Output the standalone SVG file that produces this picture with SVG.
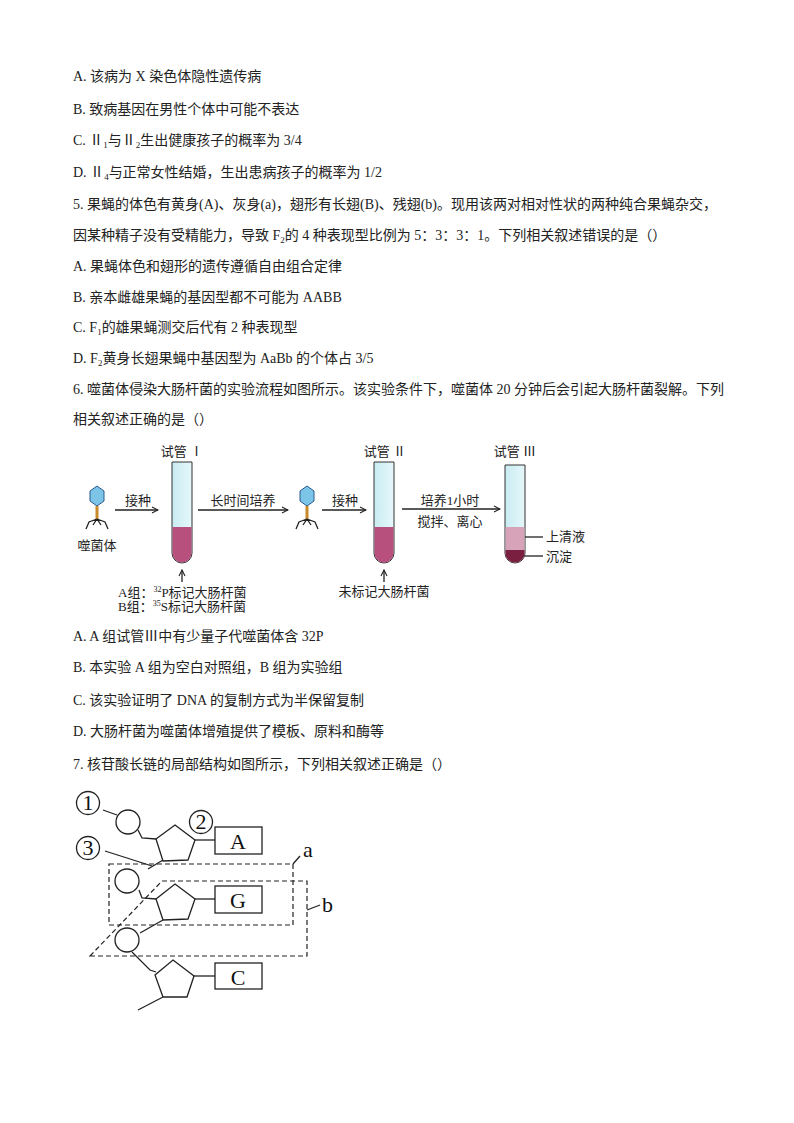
<svg xmlns="http://www.w3.org/2000/svg" width="794" height="1123" viewBox="0 0 794 1123">
<style>
.t{font-family:"Liberation Serif","Noto Sans CJK SC",serif;font-size:14px;fill:#222}
.d{font-family:"Liberation Serif","Noto Sans CJK SC",serif;font-size:13px;fill:#222}
.s{stroke:#222;stroke-width:1.3;fill:none}
.w{stroke:#222;stroke-width:1.3;fill:#fff}
.ds{stroke:#222;stroke-width:1.2;fill:none;stroke-dasharray:5,3}
.big{font-family:"Liberation Serif",serif;font-size:22px;fill:#111}
</style>
<defs>
<marker id="ar" markerWidth="8" markerHeight="8" refX="7" refY="4" orient="auto" markerUnits="userSpaceOnUse"><path d="M1,1 L7,4 L1,7" fill="none" stroke="#222" stroke-width="1.1"/></marker>
<linearGradient id="tube" x1="0" x2="1"><stop offset="0" stop-color="#c8ecf2"/><stop offset="1" stop-color="#e6f7fa"/></linearGradient>
<g id="phage"><polygon points="0,-12 7,-7 7,3 0,8 -7,3 -7,-7" fill="#7cc4e8" stroke="#2a5a8a" stroke-width="1"/><rect x="-1.5" y="8" width="3" height="13" fill="#c98a2a"/><path d="M0,21 L-8,24 L-11,31 M0,21 L8,24 L11,31 M0,21 L-4,27 M0,21 L4,27" class="s" stroke-width="1"/></g>
</defs>
<rect width="794" height="1123" fill="#fff"/>
<g id="text">
<text class="t" x="73" y="81">A. 该病为 X 染色体隐性遗传病</text>
<text class="t" x="73" y="114">B. 致病基因在男性个体中可能不表达</text>
<text class="t" x="73" y="145">C. Ⅱ<tspan font-size="9" dy="3">1</tspan><tspan dy="-3">与Ⅱ</tspan><tspan font-size="9" dy="3">2</tspan><tspan dy="-3">生出健康孩子的概率为 3/4</tspan></text>
<text class="t" x="73" y="177">D. Ⅱ<tspan font-size="9" dy="3">4</tspan><tspan dy="-3">与正常女性结婚，生出患病孩子的概率为 1/2</tspan></text>
<text class="t" x="73" y="209">5. 果蝇的体色有黄身(A)、灰身(a)，翅形有长翅(B)、残翅(b)。现用该两对相对性状的两种纯合果蝇杂交，</text>
<text class="t" x="73" y="240">因某种精子没有受精能力，导致 F<tspan font-size="9" dy="3">2</tspan><tspan dy="-3">的 4 种表现型比例为 5：3：3：1。下列相关叙述错误的是（）</tspan></text>
<text class="t" x="73" y="271">A. 果蝇体色和翅形的遗传遵循自由组合定律</text>
<text class="t" x="73" y="302">B. 亲本雌雄果蝇的基因型都不可能为 AABB</text>
<text class="t" x="73" y="332">C. F<tspan font-size="9" dy="3">1</tspan><tspan dy="-3">的雄果蝇测交后代有 2 种表现型</tspan></text>
<text class="t" x="73" y="363">D. F<tspan font-size="9" dy="3">2</tspan><tspan dy="-3">黄身长翅果蝇中基因型为 AaBb 的个体占 3/5</tspan></text>
<text class="t" x="73" y="394">6. 噬菌体侵染大肠杆菌的实验流程如图所示。该实验条件下，噬菌体 20 分钟后会引起大肠杆菌裂解。下列</text>
<text class="t" x="73" y="424">相关叙述正确的是（）</text>
<text class="t" x="73" y="641">A. A 组试管Ⅲ中有少量子代噬菌体含 32P</text>
<text class="t" x="73" y="672">B. 本实验 A 组为空白对照组，B 组为实验组</text>
<text class="t" x="73" y="705">C. 该实验证明了 DNA 的复制方式为半保留复制</text>
<text class="t" x="73" y="736">D. 大肠杆菌为噬菌体增殖提供了模板、原料和酶等</text>
<text class="t" x="73" y="769">7. 核苷酸长链的局部结构如图所示，下列相关叙述正确是（）</text>
</g>
<g id="tube1">
<text class="d" x="182" y="456" text-anchor="middle">试管 Ⅰ</text>
<path d="M172,462 V553 a10,10 0 0 0 20,0 V462 Z" fill="url(#tube)" stroke="#333" stroke-width="1"/>
<path d="M172.5,527 V553 a9.5,9.5 0 0 0 19,0 V527 Z" fill="#b8507e"/>
</g>
<g id="tube2">
<text class="d" x="385" y="456" text-anchor="middle">试管 Ⅱ</text>
<path d="M374,462 V553 a10,10 0 0 0 20,0 V462 Z" fill="url(#tube)" stroke="#333" stroke-width="1"/>
<path d="M374.5,527 V553 a9.5,9.5 0 0 0 19,0 V527 Z" fill="#b8507e"/>
</g>
<g id="tube3">
<text class="d" x="515" y="456" text-anchor="middle">试管 Ⅲ</text>
<path d="M505,465 V553 a10,10 0 0 0 20,0 V465 Z" fill="url(#tube)" stroke="#333" stroke-width="1"/>
<path d="M505.5,527 V553 a9.5,9.5 0 0 0 19,0 V527 Z" fill="#d7a3b8"/>
<path d="M505.5,550 V553 a9.5,9.5 0 0 0 19,0 V550 Z" fill="#7a1f40"/>
<line x1="525" y1="537" x2="543" y2="537" class="s" stroke-width="1"/>
<line x1="525" y1="556" x2="543" y2="556" class="s" stroke-width="1"/>
<text class="d" x="546" y="541">上清液</text>
<text class="d" x="546" y="561">沉淀</text>
</g>
<g id="phage1"><use href="#phage" x="97" y="498"/><text class="d" x="97" y="550" text-anchor="middle">噬菌体</text></g>
<g id="phage2"><use href="#phage" x="307" y="498"/></g>
<g id="labels">
<text class="d" x="118" y="597">A组：<tspan font-size="8" dy="-5">32</tspan><tspan dy="5">P标记大肠杆菌</tspan></text>
<text class="d" x="118" y="611">B组：<tspan font-size="8" dy="-5">35</tspan><tspan dy="5">S标记大肠杆菌</tspan></text>
<text class="d" x="384" y="596" text-anchor="middle">未标记大肠杆菌</text>
<text class="d" x="138" y="505" text-anchor="middle">接种</text>
<text class="d" x="243" y="505" text-anchor="middle">长时间培养</text>
<text class="d" x="345" y="505" text-anchor="middle">接种</text>
<text class="d" x="450" y="505" text-anchor="middle">培养1小时</text>
<text class="d" x="450" y="526" text-anchor="middle">搅拌、离心</text>
</g>
<g id="connectors" class="s" stroke-width="1">
<line x1="115" y1="510" x2="158" y2="510" marker-end="url(#ar)"/>
<line x1="198" y1="510" x2="288" y2="510" marker-end="url(#ar)"/>
<line x1="322" y1="510" x2="366" y2="510" marker-end="url(#ar)"/>
<line x1="402" y1="509" x2="500" y2="509" marker-end="url(#ar)"/>
<line x1="182" y1="582" x2="182" y2="570" marker-end="url(#ar)"/>
<line x1="384" y1="582" x2="384" y2="570" marker-end="url(#ar)"/>
</g>
<g id="nucleotide">
<line x1="103" y1="810" x2="117" y2="815" class="s"/>
<circle cx="128" cy="822" r="12" class="w"/>
<polyline points="138,830 142,838 156,839" class="s"/>
<polygon points="175,825 195,840 188,860 163,861 156,839" class="w"/>
<line x1="195" y1="840" x2="215" y2="840" class="s"/>
<rect x="215" y="827" width="47" height="27" class="w"/>
<text class="big" x="238" y="849" text-anchor="middle">A</text>
<line x1="105" y1="851" x2="152" y2="866" class="s"/>
<line x1="163" y1="860" x2="148" y2="869" class="s"/>
<circle cx="127" cy="881" r="12" class="w"/>
<polyline points="139,890 142,898 156,899" class="s"/>
<polygon points="175,884 195,899 188,919 163,920 156,899" class="w"/>
<line x1="195" y1="899" x2="215" y2="899" class="s"/>
<rect x="215" y="886" width="47" height="27" class="w"/>
<text class="big" x="238" y="908" text-anchor="middle">G</text>
<line x1="163" y1="920" x2="140" y2="933" class="s"/>
<circle cx="127" cy="940" r="12" class="w"/>
<polyline points="132,952 150,970 156,972" class="s"/>
<polygon points="173,960 194,976 187,997 163,997 155,975" class="w"/>
<line x1="194" y1="976" x2="215" y2="976" class="s"/>
<rect x="215" y="963" width="47" height="26" class="w"/>
<text class="big" x="238" y="985" text-anchor="middle">C</text>
<line x1="163" y1="997" x2="138" y2="1010" class="s"/>
<circle cx="88" cy="803" r="11.5" class="w"/><text class="big" x="88" y="810" text-anchor="middle" font-size="19">1</text>
<circle cx="201" cy="822" r="11.5" class="w"/><text class="big" x="201" y="829" text-anchor="middle" font-size="19">2</text>
<circle cx="88" cy="848" r="11.5" class="w"/><text class="big" x="88" y="855" text-anchor="middle" font-size="19">3</text>
<rect x="109" y="864" width="184" height="61" class="ds"/>
<polygon points="90,956 162,881 307,881 307,956" class="ds"/>
<line x1="293" y1="864" x2="300" y2="856" class="s" stroke-width="1"/>
<text class="big" x="303" y="857">a</text>
<line x1="307" y1="910" x2="320" y2="905" class="s" stroke-width="1"/>
<text class="big" x="322" y="912">b</text>
</g>
</svg>
